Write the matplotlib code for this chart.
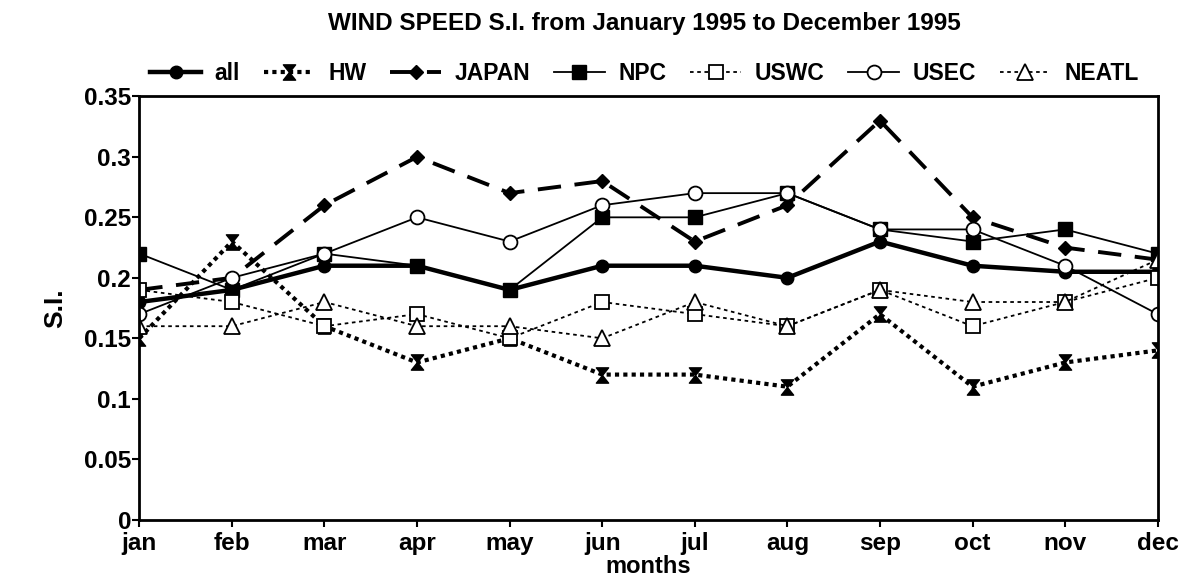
import matplotlib
matplotlib.use("Agg")
import matplotlib.pyplot as plt
from matplotlib.path import Path
from matplotlib.ticker import FuncFormatter

plt.rcParams['font.family'] = ['Liberation Sans', 'DejaVu Sans']
plt.rcParams['font.weight'] = 'bold'

months = ["jan", "feb", "mar", "apr", "may", "jun", "jul", "aug", "sep", "oct", "nov", "dec"]

all_si = [0.18, 0.19, 0.21, 0.21, 0.19, 0.21, 0.21, 0.20, 0.23, 0.21, 0.205, 0.205]
hw_si = [0.15, 0.23, 0.16, 0.13, 0.15, 0.12, 0.12, 0.11, 0.17, 0.11, 0.13, 0.14]
japan_si = [0.19, 0.20, 0.26, 0.30, 0.27, 0.28, 0.23, 0.26, 0.33, 0.25, 0.225, 0.215]
npc_si = [0.22, 0.19, 0.22, 0.21, 0.19, 0.25, 0.25, 0.27, 0.24, 0.23, 0.24, 0.22]
uswc_si = [0.19, 0.18, 0.16, 0.17, 0.15, 0.18, 0.17, 0.16, 0.19, 0.16, 0.18, 0.20]
usec_si = [0.17, 0.20, 0.22, 0.25, 0.23, 0.26, 0.27, 0.27, 0.24, 0.24, 0.21, 0.17]
neatl_si = [0.16, 0.16, 0.18, 0.16, 0.16, 0.15, 0.18, 0.16, 0.19, 0.18, 0.18, 0.215]

# hourglass marker for HW
hourglass = Path([(-0.8, 1), (0.8, 1), (0, 0), (0.8, -1), (-0.8, -1), (0, 0), (-0.8, 1)],
                 [Path.MOVETO, Path.LINETO, Path.LINETO, Path.LINETO,
                  Path.LINETO, Path.LINETO, Path.CLOSEPOLY])

fig = plt.figure(figsize=(11.91, 5.84), dpi=100)
ax = fig.add_axes([0.117, 0.11, 0.855, 0.725])

x = list(range(len(months)))

ax.plot(x, all_si, color='black', lw=3.2, marker='o', ms=9, label='all')
ax.plot(x, hw_si, color='black', lw=3, ls=(0, (1, 1)), marker=hourglass, ms=11, label='HW')
ax.plot(x, japan_si, color='black', lw=2.8, ls=(0, (6, 3.5)), marker='D', ms=7, label='JAPAN')
ax.plot(x, npc_si, color='black', lw=1.3, marker='s', ms=9.5, label='NPC')
ax.plot(x, uswc_si, color='black', lw=1.3, ls=(0, (2, 2)), marker='s', ms=9.5,
        mfc='white', mew=1.3, label='USWC')
ax.plot(x, usec_si, color='black', lw=1.3, marker='o', ms=10,
        mfc='white', mew=1.3, label='USEC')
ax.plot(x, neatl_si, color='black', lw=1.3, ls=(0, (2, 2)), marker='^', ms=11,
        mfc='white', mew=1.3, label='NEATL')

ax.set_xlim(0, 11)
ax.set_ylim(0, 0.35)
ax.set_xticks(x)
ax.set_xticklabels(months)
ax.set_yticks([0, 0.05, 0.1, 0.15, 0.2, 0.25, 0.3, 0.35])
ax.yaxis.set_major_formatter(FuncFormatter(lambda v, p: '%g' % round(v, 2)))
ax.tick_params(axis='both', labelsize=17.5, width=1.5, length=5, direction='out')
ax.tick_params(axis='y', pad=1)
ax.tick_params(axis='x', pad=4)
for s in ax.spines.values():
    s.set_linewidth(2)

ax.set_xlabel('months', fontsize=17, fontweight='bold', labelpad=0)
ax.set_ylabel('S.I.', fontsize=19, fontweight='bold', labelpad=12)

fig.text(0.541, 0.96, 'WIND SPEED S.I. from January 1995 to December 1995',
         ha='center', va='center', fontsize=17.5, fontweight='bold')

ax.legend(loc='lower center', bbox_to_anchor=(0.496, 1.0), ncol=7, frameon=False,
          handlelength=2.2, handletextpad=0.6, columnspacing=1.05, borderaxespad=0.1,
          prop={'weight': 'bold', 'size': 16.5})

fig.savefig('out.png', dpi=100)
